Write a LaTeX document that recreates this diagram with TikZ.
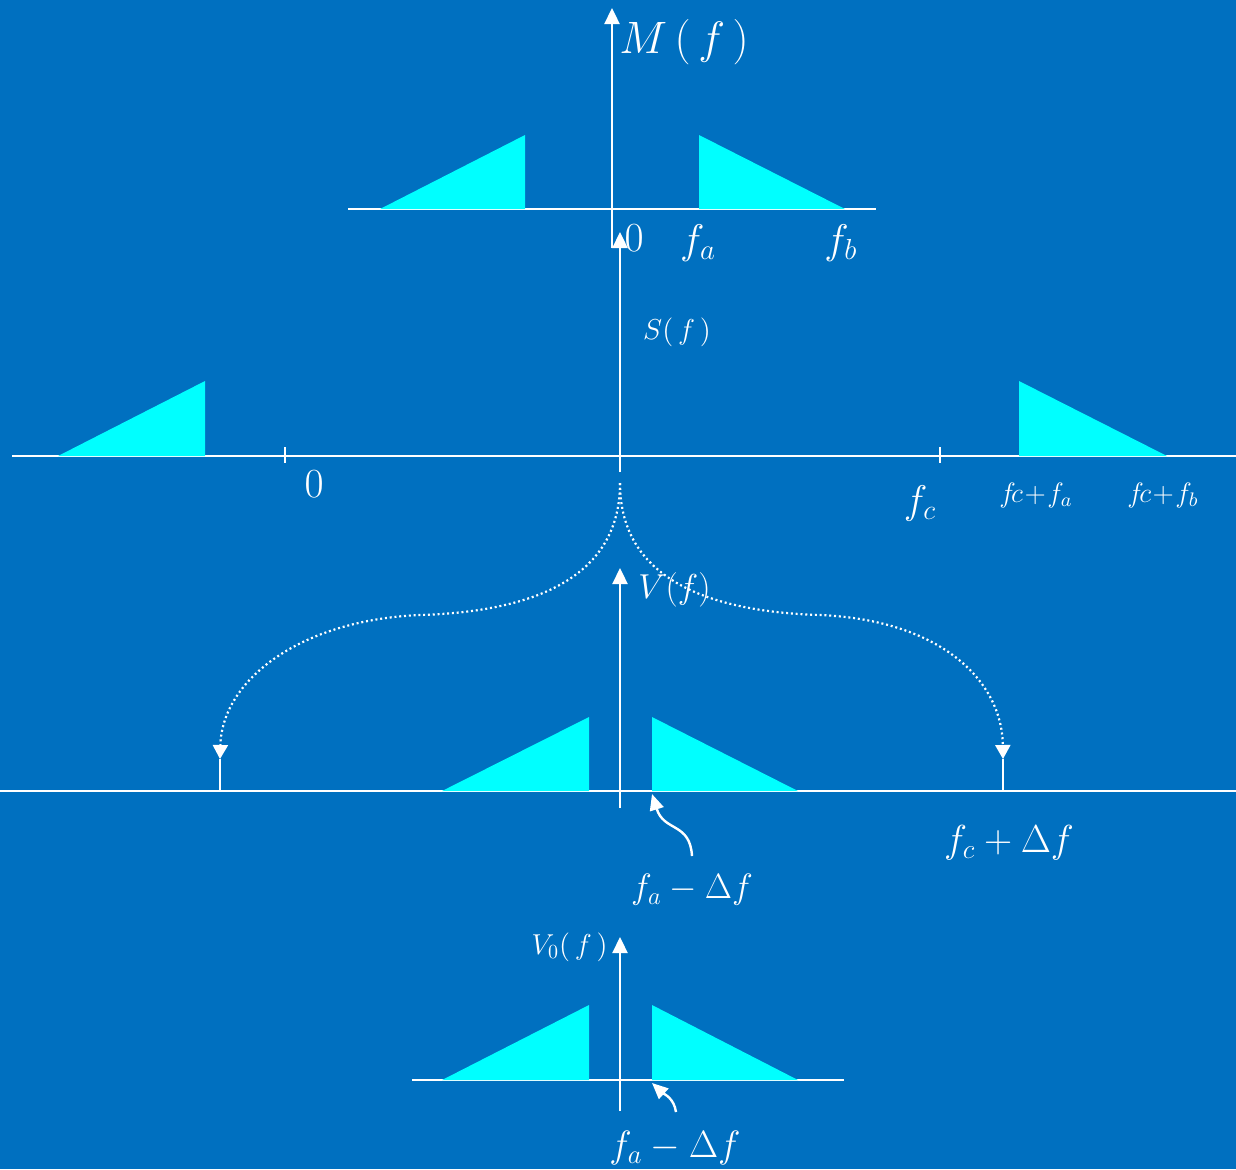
\RequirePackage{fix-cm}
\documentclass[tikz,border=0pt]{standalone}
\usetikzlibrary{arrows.meta}
\definecolor{bg}{RGB}{0,112,192}
\definecolor{band}{RGB}{0,255,255}
\begin{document}
\begin{tikzpicture}[x=0.5pt,y=-0.5pt,
  axis/.style={white,line width=1.4pt},
  vaxis/.style={white,line width=1.2pt,-{Triangle[width=7.5pt,length=8pt]}},
  spec/.style={fill=band},
  lbl/.style={text=white,inner sep=0pt},
  dotline/.style={white,line width=1.1pt,dash pattern=on 1pt off 1.4pt,-{Triangle[width=7.5pt,length=7pt]}},
  tick/.style={white,line width=1.1pt},
  small/.style={white,line width=1.2pt,-{Triangle[width=7pt,length=8pt]}}]
\fill[bg] (0,0) rectangle (1236,1169);
\useasboundingbox (0,0) rectangle (1236,1169);

% ---------- M(f) panel ----------
\draw[axis] (348,209) -- (876,209);
\fill[spec] (380,209) -- (525,135) -- (525,209) -- cycle;
\fill[spec] (699,135) -- (699,209) -- (845,209) -- cycle;
\coordinate (mlow) at (612,248);
\coordinate (mtop) at (612,8);
\draw[vaxis] (mlow) -- (mtop);
\node[lbl,anchor=west,font=\fontsize{22.7}{27}\selectfont] (mlab) at (619,42) {$M\,(\,f\,)$};
\node[lbl,font=\fontsize{20.7}{24}\selectfont] (m0lab) at (634,238) {$0$};
\node[lbl,font=\fontsize{20.7}{24}\selectfont] (mfa) at (698,243) {$f_a$};
\node[lbl,font=\fontsize{20.7}{24}\selectfont] (mfb) at (841,243) {$f_b$};

% ---------- S(f) panel ----------
\draw[axis] (12,456) -- (1236,456);
\fill[spec] (58,456) -- (205,381) -- (205,456) -- cycle;
\fill[spec] (1019,381) -- (1019,456) -- (1167,456) -- cycle;
\draw[tick] (285,447) -- (285,463);
\draw[tick] (940,447) -- (940,463);
\coordinate (slow) at (620,472);
\coordinate (stop) at (620,232);
\coordinate (scusp) at (620,483);
\draw[vaxis] (slow) -- (stop);
\node[lbl,font=\fontsize{14.4}{18}\selectfont] (slab) at (677,332) {$S(\,f\,)$};
\node[lbl,font=\fontsize{20.7}{24}\selectfont] (s0) at (314,484) {$0$};
\node[lbl,font=\fontsize{20}{24}\selectfont] (sfc) at (920,503) {$f_c$};
\node[lbl,font=\fontsize{14}{17}\selectfont] (sfca) at (1036,495) {$f\!c\!+\!f_a$};
\node[lbl,font=\fontsize{14}{17}\selectfont] (sfcb) at (1163,495) {$f\!c\!+\!f_b$};

% ---------- V(f) panel ----------
\draw[axis] (0,791) -- (1236,791);
\fill[spec] (442,791) -- (589,717) -- (589,791) -- cycle;
\fill[spec] (652,717) -- (652,791) -- (798,791) -- cycle;
\coordinate (vlow) at (620,808);
\coordinate (vtop) at (620,568);
\draw[vaxis] (vlow) -- (vtop);
\coordinate (lt) at (220,759);
\coordinate (rt) at (1003,759);
\draw[tick] (lt) -- (220,791);
\draw[tick] (rt) -- (1003,791);
\draw[dotline] (scusp) .. controls (620,585) and (520,612) .. (420,615)
   .. controls (300,620) and (222,680) .. (lt);
\draw[dotline] (scusp) .. controls (620,585) and (720,612) .. (820,615)
   .. controls (940,620) and (1002,680) .. (rt);
\node[lbl,anchor=west,font=\fontsize{17.3}{21}\selectfont] (vlab) at (638,590) {$V(f)$};
\coordinate (vfa) at (652,794);
\coordinate (vfastart) at (692,856);
\draw[small] (vfastart) .. controls (690,822) and (664,832) .. (vfa);
\node[lbl,font=\fontsize{17.6}{21}\selectfont] (vfalab) at (692,890) {$f_a - \Delta f$};
\node[lbl,font=\fontsize{19.5}{23}\selectfont] (vfclab) at (1009,843) {$f_c + \Delta f$};

% ---------- V0(f) panel ----------
\draw[axis] (412,1080) -- (844,1080);
\fill[spec] (442,1080) -- (589,1005) -- (589,1080) -- cycle;
\fill[spec] (652,1005) -- (652,1080) -- (798,1080) -- cycle;
\coordinate (wlow) at (620,1111);
\coordinate (wtop) at (620,937);
\draw[vaxis] (wlow) -- (wtop);
\node[lbl,anchor=east,font=\fontsize{14.4}{18}\selectfont] (wlab) at (608,947) {$V_0(\,f\,)$};
\coordinate (wfa) at (652,1083);
\coordinate (wfastart) at (676,1112);
\draw[small] (wfastart) .. controls (674,1098) and (664,1094) .. (wfa);
\node[lbl,font=\fontsize{19}{23}\selectfont] (wfalab) at (675,1148) {$f_a - \Delta f$};
\end{tikzpicture}
\end{document}
